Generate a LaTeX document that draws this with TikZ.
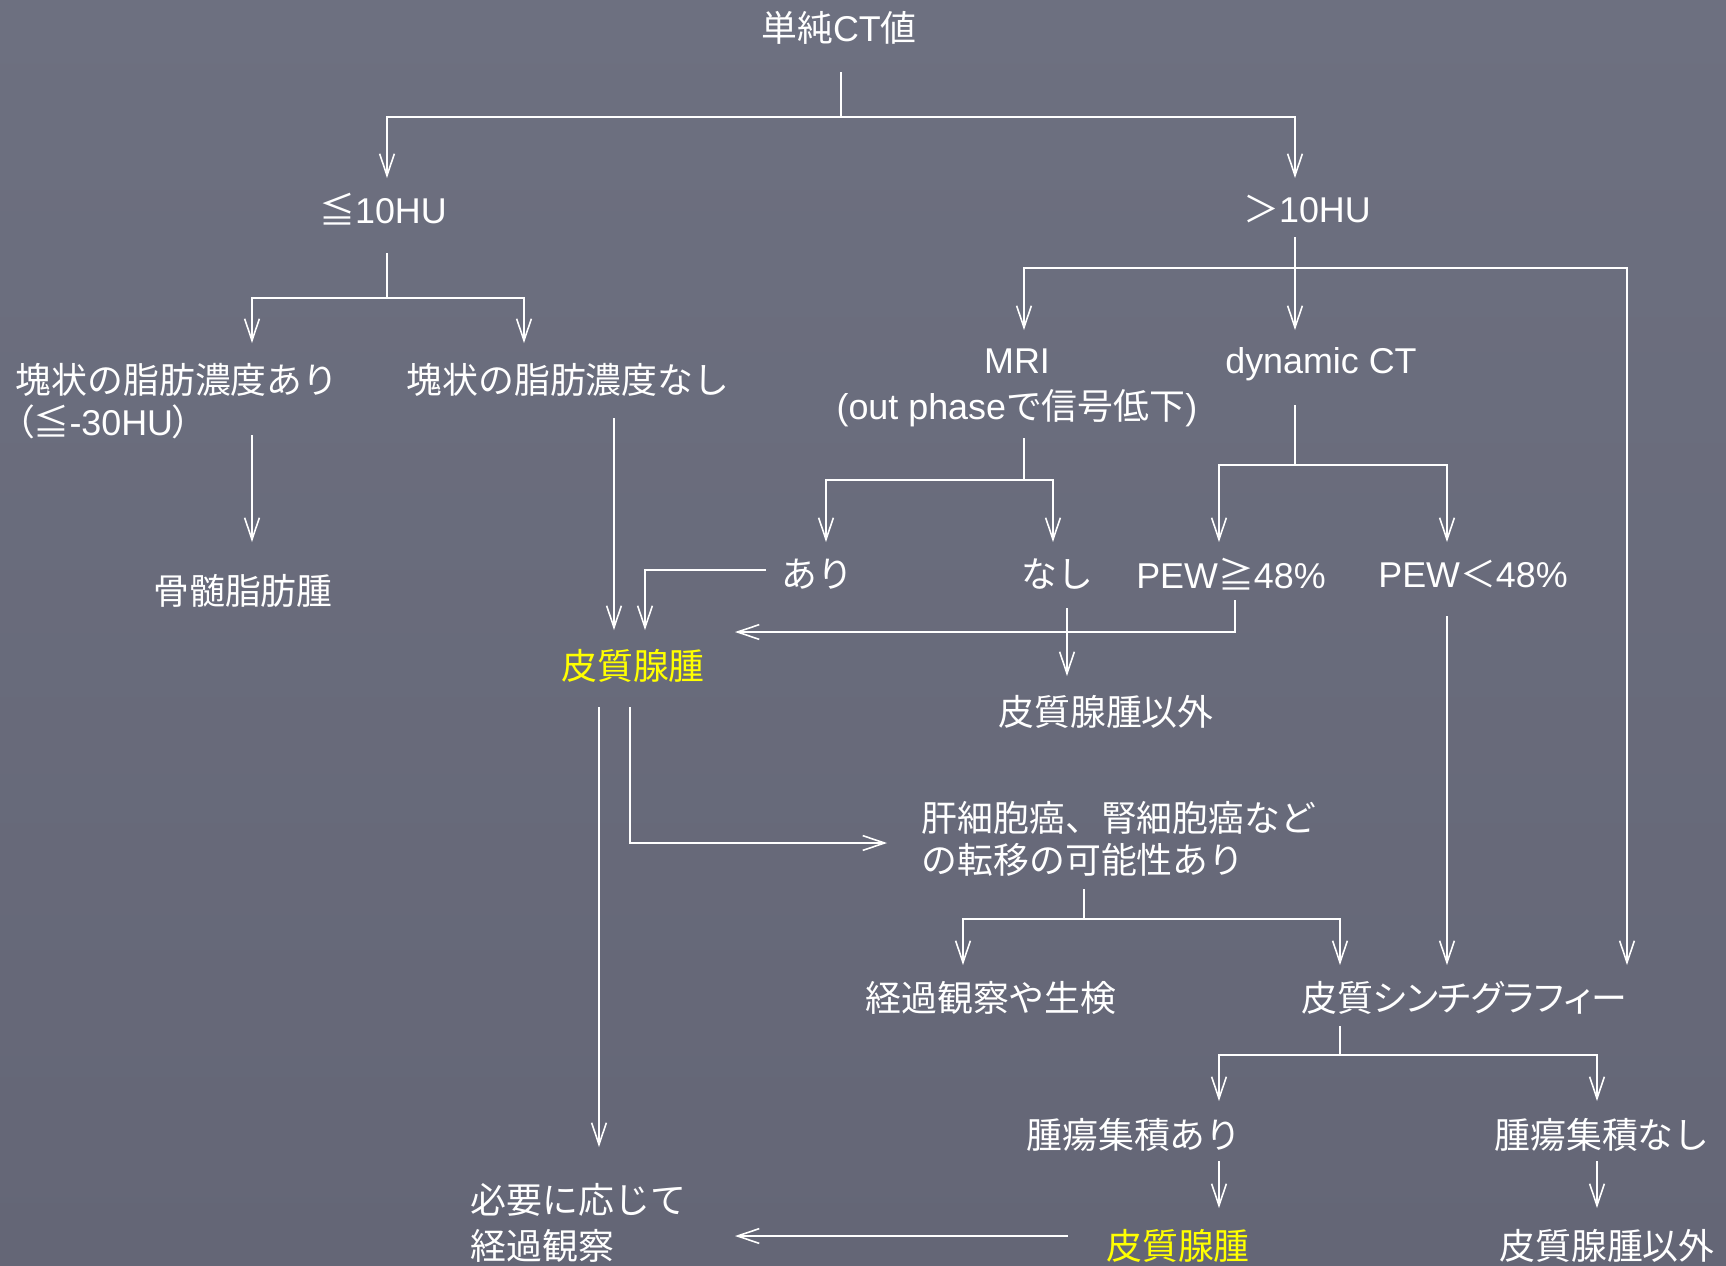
\documentclass[tikz,border=0pt]{standalone}
\usepackage{fontspec}
\setmainfont{Liberation Sans}
\newfontfamily\jp{Noto Sans CJK JP}
\newfontfamily\jpp[RawFeature=+palt]{Noto Sans CJK JP}
\usetikzlibrary{arrows.meta, calc}
\definecolor{SlideTop}{RGB}{109,112,128}
\definecolor{SlideBottom}{RGB}{100,102,118}
\definecolor{AdenomaYellow}{RGB}{255,255,0}
\newcommand*\lat[1]{{\rmfamily #1}}

\begin{document}
\begin{tikzpicture}[x=0.01cm, y=-0.01cm,
    every node/.style={text=white, inner sep=0pt, font=\jp\fontsize{10.2pt}{12pt}\selectfont},
    hit/.style={text=AdenomaYellow},
    line/.style={draw=white, line width=0.45pt},
    arr/.style={line, -{Straight Barb[length=6.2pt, width=4.2pt]}}]

\shade[top color=SlideTop, bottom color=SlideBottom] (0,0) rectangle (1726,1266);
\useasboundingbox (0,0) rectangle (1726,1266);

% the texts of the chart
\node (ct) at (839,28) {単純\lat{CT}値};
\node (le) at (383,209) {≦\lat{10HU}};
\node (gt) at (1307,209) {＞\lat{10HU}};
\node[anchor=west, align=left] (fa) at (15,401) {塊状の脂肪濃度あり\\{\jpp （≦\lat{-30HU}）}};
\node (fn) at (568,380) {塊状の脂肪濃度なし};
\node (kotsu) at (243,591) {骨髄脂肪腫};
\node[align=center, font=\jp\fontsize{10.2pt}{13pt}\selectfont] (mri) at (1017,388) {\lat{MRI}\\\lat{(out phase}で信号低下\lat{)}};
\node (dct) at (1321,364) {\lat{dynamic CT}};
\node (ari) at (817,574) {あり};
\node (nasi) at (1057,574) {なし};
\node (pge) at (1231,574) {\lat{PEW}≧\lat{48\%}};
\node (plt) at (1473,574) {\lat{PEW}＜\lat{48\%}};
\node[hit] (adr) at (633,666) {皮質腺腫};
\node (nonadr) at (1106,712) {皮質腺腫以外};
\node[anchor=west, align=left] (meta) at (921,839) {肝細胞癌、腎細胞癌など\\の転移の可能性あり};
\node (obs) at (991,998) {経過観察や生検};
\node[font=\jpp\fontsize{10.2pt}{12pt}\selectfont] (scinti) at (1464,998) {皮質シンチグラフィー};
\node (acc) at (1134,1135) {腫瘍集積あり};
\node (noacc) at (1602,1135) {腫瘍集積なし};
\node[hit] (adr2) at (1178,1246) {皮質腺腫};
\node (nonadr2) at (1607,1246) {皮質腺腫以外};
\node[anchor=west, align=left, font=\jp\fontsize{10.2pt}{13pt}\selectfont] (follow) at (470,1223) {必要に応じて\\経過観察};

% plain CT value
\draw[line] ($(ct)+(2,44)$) -- ++(0,45) coordinate (ctj);
\draw[arr] (ctj) -| ($(le)+(4,-31)$);
\draw[arr] (ctj) -| ($(gt)+(-12,-31)$);

% <= 10HU
\draw[line] ($(le)+(4,44)$) -- ++(0,45) coordinate (lej);
\draw[arr] (lej) -| ($(fa.west)+(237,-58)$);
\draw[arr] (lej) -| ($(fn)+(-44,-37)$);

% > 10HU
\draw[arr] ($(gt)+(-12,28)$) -- ($(dct)+(-26,-34)$);
\coordinate (gtj) at ($(gt)+(-12,59)$);
\draw[arr] (gtj) -| ($(mri)+(7,-58)$);
\draw[arr] (gtj) -| ($(scinti)+(163,-33)$);

% MRI and dynamic CT
\draw[line] ($(mri)+(7,50)$) -- ++(0,42) coordinate (mrij);
\draw[arr] (mrij) -| ($(ari)+(9,-32)$);
\draw[arr] (mrij) -| ($(nasi)+(-4,-32)$);
\draw[line] ($(dct)+(-26,41)$) -- ++(0,60) coordinate (dctj);
\draw[arr] (dctj) -| ($(pge)+(-12,-32)$);
\draw[arr] (dctj) -| ($(plt)+(-26,-32)$);

% back to the adenoma
\draw[arr] ($(ari)+(-51,-4)$) -| ($(adr)+(12,-36)$);
\draw[arr] ($(pge)+(4,26)$) |- ($(adr)+(102,-34)$);

% metastasis
\draw[arr] ($(adr)+(-3,41)$) |- ($(meta.west)+(-34,4)$);
\draw[line] ($(meta.west)+(163,50)$) -- ++(0,30) coordinate (metaj);
\draw[arr] (metaj) -| ($(obs)+(-28,-33)$);
\draw[arr] (metaj) -| ($(scinti)+(-124,-33)$);

% scintigraphy
\draw[line] ($(scinti)+(-124,28)$) -- ++(0,29) coordinate (scj);
\draw[arr] (scj) -| ($(acc)+(85,-34)$);
\draw[arr] (scj) -| ($(noacc)+(-5,-34)$);

\foreach \a/\ax/\ay/\b/\bx/\by in {fa.west/237/34/kotsu/9/-49, fn/46/38/adr/-19/-36,
    nasi/10/34/nonadr/-39/-36, plt/-26/42/scinti/-17/-33, adr/-34/41/follow.west/129/-76,
    acc/85/26/adr2/41/-38, noacc/-5/26/nonadr2/-10/-38, adr2/-110/-10/follow.west/265/13}
  \draw[arr] ($(\a)+(\ax,\ay)$) -- ($(\b)+(\bx,\by)$);

\end{tikzpicture}
\end{document}
